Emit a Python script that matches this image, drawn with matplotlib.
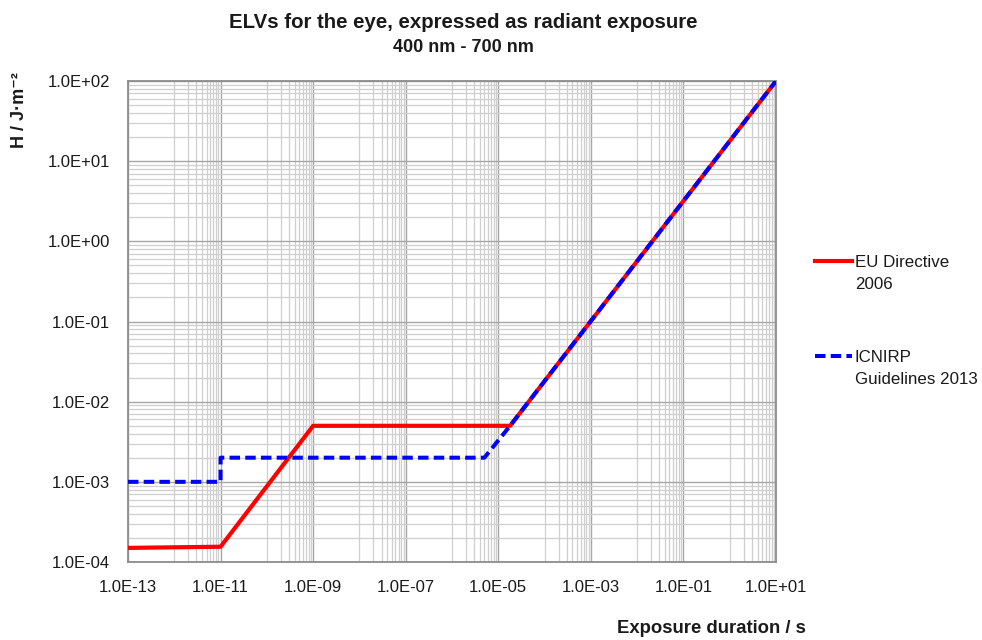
import matplotlib
matplotlib.use("Agg")
import matplotlib.pyplot as plt
from matplotlib.lines import Line2D
from matplotlib.ticker import FixedLocator, LogLocator, NullFormatter, FuncFormatter
import numpy as np

plt.rcParams["font.family"] = ["Liberation Sans", "DejaVu Sans"]

# Datos
t_eu = [1e-13, 1e-11, 1e-9, 1.8e-5, 1e1]
h_eu = [1.5e-4, 1.55e-4, 5e-3, 5e-3, 1e2]

t_icnirp = [1e-13, 1e-11, 1e-11, 5e-6, 1.8e-5, 1e1]
h_icnirp = [1e-3, 1e-3, 2e-3, 2e-3, 5e-3, 1e2]

label_eu = ["EU Directive", "2006"]
label_icnirp = ["ICNIRP", "Guidelines 2013"]

x_major = [10.0 ** e for e in range(-13, 2, 2)]
x_minor = [k * 10.0 ** e for e in range(-12, 1, 2) for k in range(1, 10)]

text_color = "#1a1a1a"
grid_major = "#a6a6a6"
grid_minor = "#cfcfcf"

fig = plt.figure(figsize=(9.82, 6.4), dpi=100)
ax = fig.add_axes([128 / 982, 1 - 562 / 640, 648 / 982, 481 / 640])

ax.plot(t_eu, h_eu, color="#ff0000", lw=3.0, solid_joinstyle="round", zorder=3)
ax.plot(t_icnirp, h_icnirp, color="#0000ff", lw=2.9, dashes=(2.6, 1.3),
        dash_joinstyle="round", zorder=4)

ax.set_xscale("log")
ax.set_yscale("log")
ax.set_xlim(1e-13, 1e1)
ax.set_ylim(1e-4, 1e2)

ax.xaxis.set_major_locator(FixedLocator(x_major))
ax.xaxis.set_minor_locator(FixedLocator(x_minor))
ax.xaxis.set_minor_formatter(NullFormatter())
ax.yaxis.set_major_locator(LogLocator(base=10, numticks=20))
ax.yaxis.set_minor_locator(LogLocator(base=10, subs=np.arange(2, 10), numticks=20))
ax.yaxis.set_minor_formatter(NullFormatter())

fmt = FuncFormatter(lambda v, pos: f"{v:.1E}")
ax.xaxis.set_major_formatter(fmt)
ax.yaxis.set_major_formatter(fmt)
ax.xaxis.get_offset_text().set_visible(False)
ax.yaxis.get_offset_text().set_visible(False)
ax.xaxis.label.set_visible(False)
ax.yaxis.label.set_visible(False)

ax.tick_params(which="both", length=0, labelsize=12, colors=text_color)
ax.tick_params(axis="x", pad=13)
ax.tick_params(axis="y", pad=13)

ax.set_axisbelow(True)
ax.grid(which="major", color=grid_major, lw=1.0)
ax.grid(which="minor", color=grid_minor, lw=0.9)

for s in ax.spines.values():
    s.set_color("#8c8c8c")
    s.set_linewidth(1.3)

# Títulos
fig.text(463 / 982, 1 - 22 / 640, "ELVs for the eye, expressed as radiant exposure",
         ha="center", va="center", fontsize=14.7, fontweight="bold", color=text_color)
fig.text(463 / 982, 1 - 47 / 640, "400 nm - 700 nm",
         ha="center", va="center", fontsize=13, fontweight="bold", color=text_color)

# Ejes
fig.text(806 / 982, 1 - 633 / 640, "Exposure duration / s", ha="right", va="baseline",
         fontsize=13.3, fontweight="bold", color=text_color)
fig.text(20 / 982, 1 - 110 / 640, "H / J·m⁻²", ha="center", va="center", rotation=90,
         fontsize=13, fontweight="bold", color=text_color)

# Leyenda manual
fig.add_artist(Line2D([815 / 982, 852 / 982], [1 - 261 / 640] * 2, color="#ff0000", lw=3.0))
fig.add_artist(Line2D([815 / 982, 852 / 982], [1 - 356 / 640] * 2, color="#0000ff", lw=2.9,
                      dashes=(2.6, 1.3)))
for i, line in enumerate(label_eu):
    fig.text(855 / 982, 1 - (267 + 22 * i) / 640, line, ha="left", va="baseline",
             fontsize=12.2, color=text_color)
for i, line in enumerate(label_icnirp):
    fig.text(855 / 982, 1 - (362 + 22 * i) / 640, line, ha="left", va="baseline",
             fontsize=12.2, color=text_color)

fig.savefig("out.png", dpi=100)
